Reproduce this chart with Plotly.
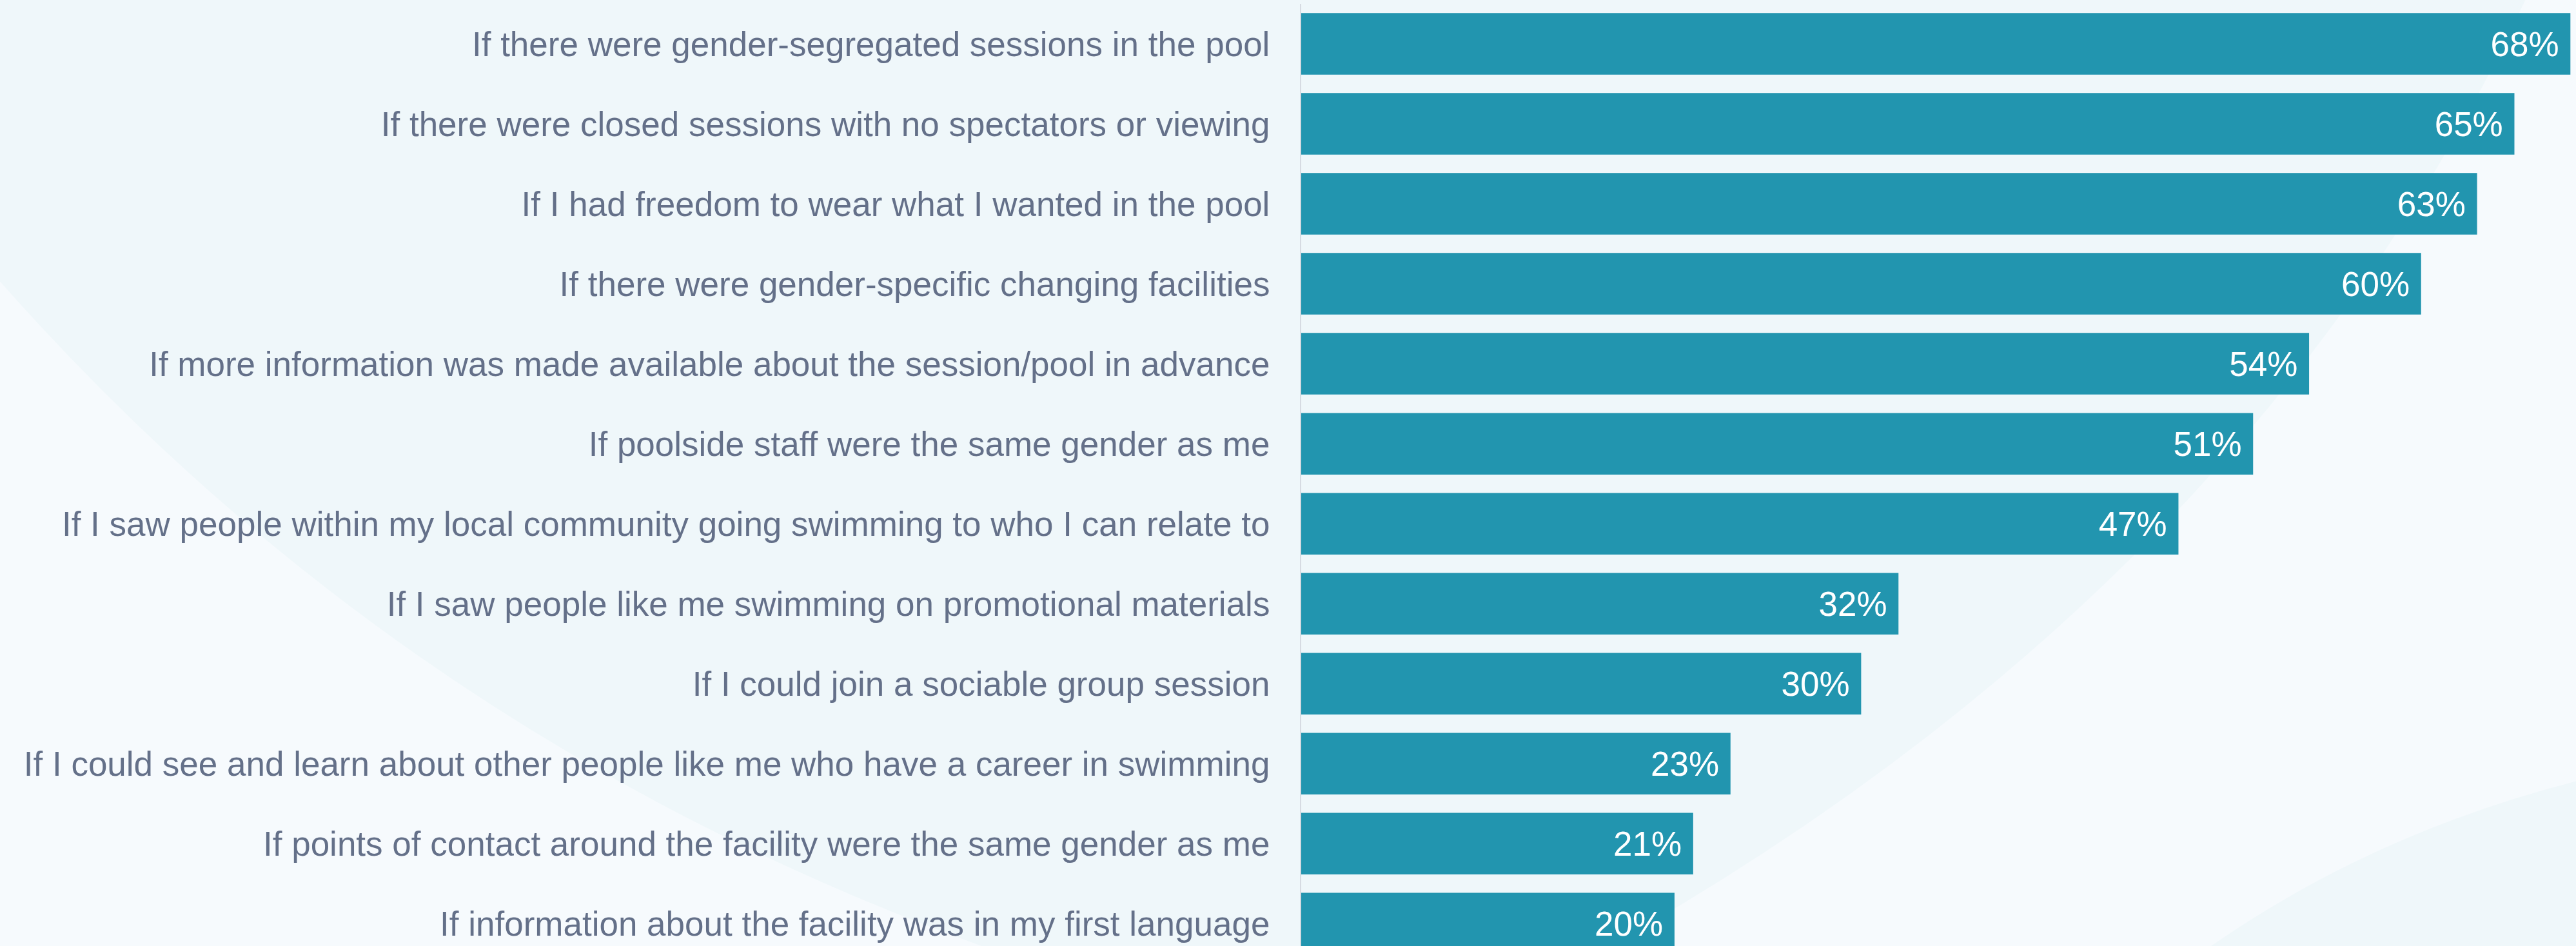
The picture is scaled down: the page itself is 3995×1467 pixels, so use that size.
import plotly.graph_objects as go

# data (top to bottom)
statements = [
    "If there were gender-segregated sessions in the pool",
    "If there were closed sessions with no spectators or viewing",
    "If I had freedom to wear what I wanted in the pool",
    "If there were gender-specific changing facilities",
    "If more information was made available about the session/pool in advance",
    "If poolside staff were the same gender as me",
    "If I saw people within my local community going swimming to who I can relate to",
    "If I saw people like me swimming on promotional materials",
    "If I could join a sociable group session",
    "If I could see and learn about other people like me who have a career in swimming",
    "If points of contact around the facility were the same gender as me",
    "If information about the facility was in my first language",
]
percent = [68, 65, 63, 60, 54, 51, 47, 32, 30, 23, 21, 20]

W, H = 3995, 1467
L, T = 2018, 6

BAR = "#2295AF"
LABEL = "#647089"
BG_LIGHT = "#F6FAFD"
BG_DARK = "#EFF7FA"


def px(x, y):
    # page pixels -> paper coords of the plot area
    return (x - L) / (W - L), 1 - (y - T) / (H - T)


def path(points):
    # points: list of (cmd, [(x, y), ...]) in page pixels
    out = []
    for cmd, pts in points:
        coords = " ".join("%.4f,%.4f" % px(x, y) for x, y in pts)
        out.append(cmd + " " + coords if pts else cmd)
    return " ".join(out)


fig = go.Figure(
    go.Bar(
        x=percent,
        y=statements,
        orientation="h",
        marker=dict(color=BAR, line=dict(width=0)),
        text=[f"{v}%\u00a0" for v in percent],
        textposition="inside",
        insidetextanchor="end",
        textfont=dict(color="white", size=53),
        hoverinfo="skip",
    )
)

# soft background blobs
blob_top = path([
    ("M", [(-10, -10)]),
    ("L", [(3921, -10)]),
    ("Q", [(3500, 906), (2480, 1477)]),
    ("L", [(1550, 1477)]),
    ("Q", [(625, 1150), (-10, 425)]),
    ("Z", []),
])
blob_br = path([
    ("M", [(3415, 1477)]),
    ("Q", [(3675, 1292), (4005, 1209)]),
    ("L", [(4005, 1477)]),
    ("Z", []),
])
shapes = [
    dict(type="path", path=blob_top, xref="paper", yref="paper",
         fillcolor=BG_DARK, line=dict(width=0), layer="below"),
    dict(type="path", path=blob_br, xref="paper", yref="paper",
         fillcolor=BG_DARK, line=dict(width=0), layer="below"),
]

fig.update_layout(
    width=W,
    height=H,
    paper_bgcolor=BG_LIGHT,
    plot_bgcolor="rgba(0,0,0,0)",
    font=dict(family="Liberation Sans, Arial, sans-serif", size=53, color=LABEL),
    margin=dict(l=L, r=0, t=T, b=0, autoexpand=False),
    bargap=0.23,
    showlegend=False,
    shapes=shapes,
    xaxis=dict(range=[0, 68.3], visible=False, fixedrange=True),
    yaxis=dict(
        categoryorder="array",
        categoryarray=statements,
        range=[11.28, -0.5],
        showline=True,
        linecolor="#D6DBE2",
        linewidth=2,
        showgrid=False,
        ticks="",
        ticklabelstandoff=36,
        tickfont=dict(size=53, color=LABEL),
        automargin=False,
        fixedrange=True,
    ),
)

fig.write_html(
    "out.html",
    config={"displayModeBar": False},
    post_script="document.body.style.margin='0';document.body.style.background='%s';" % BG_LIGHT,
)
